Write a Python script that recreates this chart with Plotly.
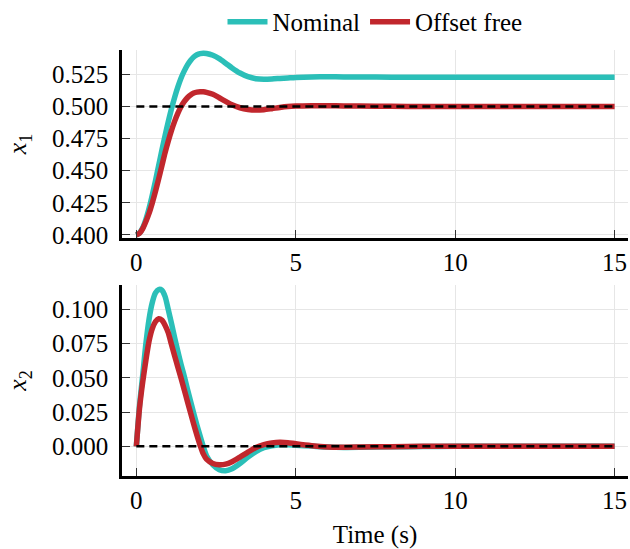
import plotly.graph_objects as go
from plotly.subplots import make_subplots

# Simulation time grid (s)
time = [0, 0.1, 0.2, 0.3, 0.4, 0.5, 0.6, 0.7, 0.8, 0.9, 1.0, 1.1, 1.2, 1.3, 1.4,
        1.5, 1.6, 1.7, 1.8, 1.9, 2.0, 2.1, 2.2, 2.4, 2.6, 2.8, 3.0, 3.25, 3.5,
        3.75, 4.0, 4.25, 4.5, 4.75, 5.0, 5.5, 6.0, 6.5, 7, 8, 9, 10, 11, 12, 13,
        14, 15]

# State x1 trajectories
x1_nominal = [0.4000, 0.4015, 0.4056, 0.4122, 0.4208, 0.4310, 0.4422, 0.4540,
              0.4658, 0.4772, 0.4880, 0.4980, 0.5070, 0.5150, 0.5220, 0.5275,
              0.5322, 0.5358, 0.5385, 0.5402, 0.5411, 0.5414, 0.5412, 0.5398,
              0.5372, 0.5337, 0.5300, 0.5260, 0.5232, 0.5216, 0.5212, 0.5214,
              0.5218, 0.5222, 0.5226, 0.5230, 0.5231, 0.5230, 0.5229, 0.5228,
              0.5228, 0.5228, 0.5228, 0.5228, 0.5228, 0.5228, 0.5228]
x1_offset_free = [0.4000, 0.4013, 0.4050, 0.4105, 0.4170, 0.4250, 0.4340, 0.4437,
                  0.4538, 0.4640, 0.4730, 0.4812, 0.4884, 0.4946, 0.4998, 0.5038,
                  0.5068, 0.5090, 0.5104, 0.5112, 0.5115, 0.5114, 0.5110, 0.5095,
                  0.5068, 0.5040, 0.5013, 0.4990, 0.4977, 0.4972, 0.4975, 0.4983,
                  0.4992, 0.4999, 0.5003, 0.5006, 0.5006, 0.5004, 0.5003, 0.5001,
                  0.5000, 0.5000, 0.5000, 0.5000, 0.5000, 0.5000, 0.5000]

# State x2 trajectories
x2_nominal = [0.0, 0.030, 0.052, 0.075, 0.093, 0.105, 0.112, 0.1145, 0.1140,
              0.1095, 0.100, 0.0900, 0.0795, 0.0695, 0.0600, 0.0515, 0.0420,
              0.0330, 0.0240, 0.0155, 0.0075, -0.0002, -0.0068, -0.0135,
              -0.0170, -0.0178, -0.0163, -0.0125, -0.0078, -0.0038, -0.0010,
              0.0004, 0.0011, 0.0012, 0.0009, 0.0002, -0.0005, -0.0008,
              -0.0007, -0.0003, -0.0001, 0.0, 0.0, 0.0, 0.0, 0.0, 0.0]
x2_offset_free = [0.0, 0.028, 0.047, 0.063, 0.077, 0.086, 0.091, 0.0932, 0.0922,
                  0.0885, 0.0830, 0.0745, 0.0662, 0.0580, 0.0500, 0.0415, 0.0330,
                  0.0245, 0.0162, 0.0082, 0.0008, -0.0055, -0.0093, -0.0125,
                  -0.0134, -0.0130, -0.0112, -0.0078, -0.0042, -0.0008, 0.0013,
                  0.0025, 0.0030, 0.0027, 0.0019, 0.0005, -0.0004, -0.0006,
                  -0.0005, -0.0002, 0.0, 0.0, 0.0, 0.0, 0.0, 0.0, 0.0]

# Setpoints
ref_time = [0, 15]
ref_x1 = 0.5
ref_x2 = 0.0

x1_ticks = [0.400, 0.425, 0.450, 0.475, 0.500, 0.525]
x2_ticks = [0.000, 0.025, 0.050, 0.075, 0.100]
time_ticks = [0, 5, 10, 15]

TEAL = "#2bbfb8"
RED = "#c1272d"
FONT = "Liberation Serif"

fig = make_subplots(rows=2, cols=1)

for row, (nom, off, ref) in enumerate(
        [(x1_nominal, x1_offset_free, ref_x1), (x2_nominal, x2_offset_free, ref_x2)], start=1):
    fig.add_trace(go.Scatter(x=time, y=nom, mode="lines", name="Nominal",
                             line=dict(color=TEAL, width=5.5, shape="spline", smoothing=0.7),
                             showlegend=(row == 1)), row=row, col=1)
    fig.add_trace(go.Scatter(x=time, y=off, mode="lines", name="Offset free",
                             line=dict(color=RED, width=5.5, shape="spline", smoothing=0.7),
                             showlegend=(row == 1)), row=row, col=1)
    fig.add_trace(go.Scatter(x=ref_time, y=[ref, ref], mode="lines",
                             line=dict(color="black", width=2.5, dash="8px,5px"),
                             showlegend=False, hoverinfo="skip"), row=row, col=1)

axis_common = dict(
    showline=True, linecolor="black", linewidth=2.5, mirror=False,
    ticks="inside", ticklen=8, tickwidth=1.2, tickcolor="#333333",
    showgrid=True, gridcolor="#e6e6e6", gridwidth=1, zeroline=False,
    tickfont=dict(family=FONT, size=25, color="black"),
)

fig.update_xaxes(**axis_common, range=[-0.45, 15.42], tickvals=time_ticks)
fig.update_yaxes(**axis_common)

fig.update_layout(
    xaxis=dict(domain=[0, 1], anchor="y"),
    xaxis2=dict(domain=[0, 1], anchor="y2",
                title=dict(text="Time (s)", standoff=22,
                           font=dict(family=FONT, size=25, color="black"))),
    yaxis=dict(domain=[0.5587, 1.0], range=[0.39766, 0.54393], tickvals=x1_ticks,
               tickformat=".3f", ticklabelstandoff=6,
               title=dict(text="<i>x</i><sub>1</sub>", standoff=18,
                          font=dict(family=FONT, size=26, color="black"))),
    yaxis2=dict(domain=[0.0, 0.4484], range=[-0.02163, 0.11782], tickvals=x2_ticks,
                tickformat=".3f", ticklabelstandoff=6,
                title=dict(text="<i>x</i><sub>2</sub>", standoff=18,
                           font=dict(family=FONT, size=26, color="black"))),
    width=630, height=549,
    margin=dict(l=122, r=2, t=50, b=73, autoexpand=False),
    plot_bgcolor="white", paper_bgcolor="white",
    legend=dict(orientation="h", x=0.5, xanchor="center", y=1.066, yanchor="middle",
                font=dict(family=FONT, size=25, color="black"),
                bgcolor="rgba(0,0,0,0)", itemwidth=40, tracegroupgap=0),
    font=dict(family=FONT, color="black"),
)

fig.write_html("out.html")
